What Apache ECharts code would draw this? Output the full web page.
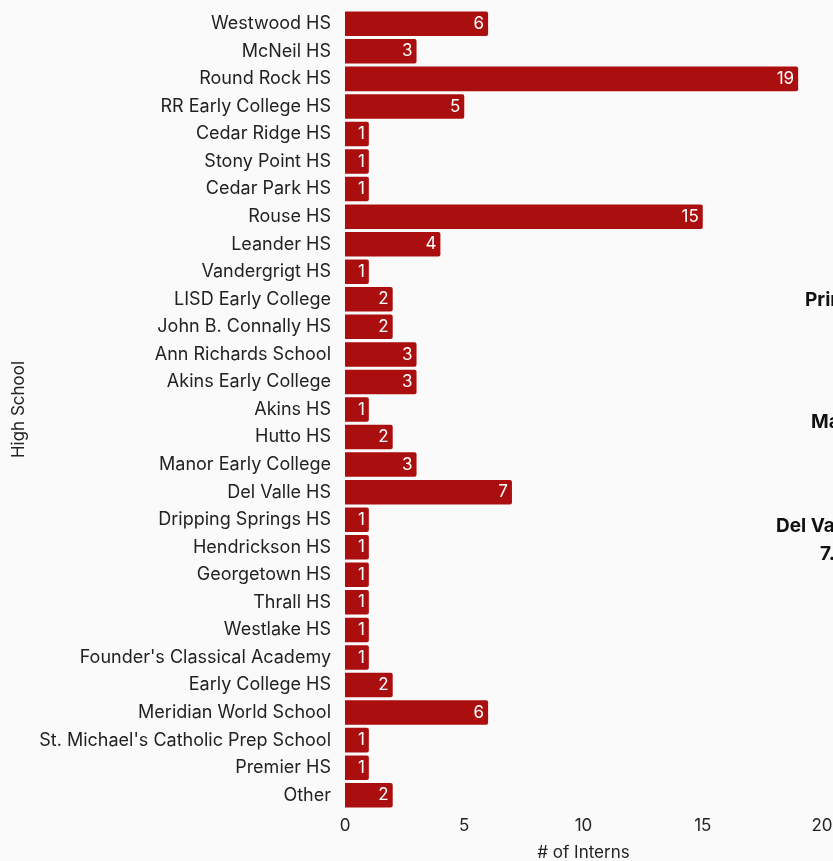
<!DOCTYPE html>
<html lang="en">
<head>
    <meta charset="UTF-8">
    <title>Interns by High School</title>
    <script src="https://cdn.jsdelivr.net/npm/echarts@6/dist/echarts.min.js"></script>
    <style>
        html, body { margin: 0; padding: 0; background: #fafafa; }
        #chart { width: 833px; height: 861px; }
    </style>
</head>
<body>
<div id="chart"></div>
<script type="text/javascript">
    // data, top to bottom
    var schools = ['Westwood HS', 'McNeil HS', 'Round Rock HS', 'RR Early College HS', 'Cedar Ridge HS',
        'Stony Point HS', 'Cedar Park HS', 'Rouse HS', 'Leander HS', 'Vandergrigt HS',
        'LISD Early College', 'John B. Connally HS', 'Ann Richards School', 'Akins Early College', 'Akins HS',
        'Hutto HS', 'Manor Early College', 'Del Valle HS', 'Dripping Springs HS', 'Hendrickson HS',
        'Georgetown HS', 'Thrall HS', 'Westlake HS', "Founder's Classical Academy", 'Early College HS',
        'Meridian World School', "St. Michael's Catholic Prep School", 'Premier HS', 'Other'];
    var interns = [6, 3, 19, 5, 1, 1, 1, 15, 4, 1, 2, 2, 3, 3, 1, 2, 3, 7, 1, 1, 1, 1, 1, 1, 2, 6, 1, 1, 2];
    var xTicks = [0, 5, 10, 15, 20];

    var font = 'Inter, "Noto Sans", sans-serif';
    var chart = echarts.init(document.getElementById('chart'));

    var option = {
        backgroundColor: '#fafafa',
        animation: false,
        textStyle: { fontFamily: font },
        grid: { left: 345, right: 11, top: 10, bottom: 52, outerBoundsMode: 'none', containLabel: false },
        xAxis: {
            type: 'value',
            min: xTicks[0],
            max: xTicks[xTicks.length - 1],
            interval: 5,
            name: '# of Interns',
            nameLocation: 'middle',
            nameGap: 35,
            nameTextStyle: { fontSize: 17, color: '#222', fontFamily: font },
            axisLine: { show: false },
            axisTick: { show: false },
            splitLine: { show: false },
            axisLabel: { fontSize: 17, color: '#222', margin: 8, fontFamily: font }
        },
        yAxis: {
            type: 'category',
            data: schools,
            inverse: true,
            name: 'High School',
            nameLocation: 'middle',
            nameRotate: 90,
            nameGap: 318,
            nameTextStyle: { fontSize: 17, color: '#222', fontFamily: font },
            axisLine: { show: false },
            axisTick: { show: false },
            axisLabel: { fontSize: 18, color: '#222', margin: 14, fontFamily: font }
        },
        series: [{
            type: 'bar',
            data: interns,
            barCategoryGap: '11%',
            itemStyle: { color: '#ab0e0e', borderRadius: [0, 2, 2, 0] },
            label: {
                show: true,
                position: 'insideRight',
                distance: 4,
                color: '#fff',
                fontSize: 17,
                fontFamily: font
            }
        }],
        // bold annotations that run off the right edge
        graphic: [
            { type: 'text', left: 805, top: 291, style: { text: 'Primarily Round Rock ISD', font: 'bold 19px ' + font, fill: '#111' } },
            { type: 'text', left: 811, top: 413, style: { text: 'Manor ISD', font: 'bold 19px ' + font, fill: '#111' } },
            { type: 'text', left: 776, top: 517, style: { text: 'Del Valle HS', font: 'bold 19px ' + font, fill: '#111' } },
            { type: 'text', left: 820, top: 545, style: { text: '7.7%', font: 'bold 19px ' + font, fill: '#111' } }
        ]
    };
    chart.setOption(option);
</script>
</body>
</html>
